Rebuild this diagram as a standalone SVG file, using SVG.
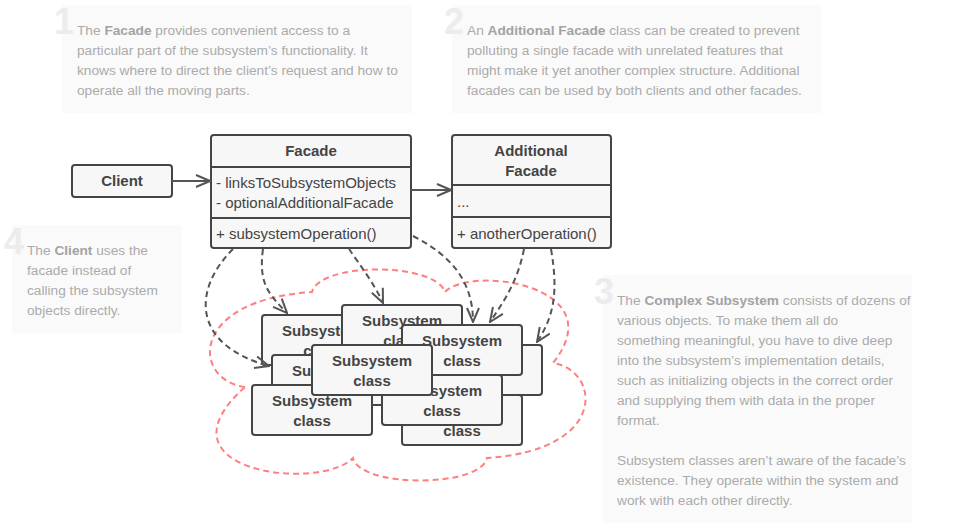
<svg xmlns="http://www.w3.org/2000/svg" width="953" height="525" viewBox="0 0 953 525">
<style>
.note{fill:#fafafa}
.num{font-family:"Liberation Sans",Arial,sans-serif;font-size:36px;font-weight:bold;fill:#ececec;text-anchor:end}
.nt{font-family:"Liberation Sans",Arial,sans-serif;font-size:13.7px;fill:#ababab}
.nt .b{font-weight:bold;fill:#a3a3a3}
.box{fill:#f7f7f7;stroke:#454545;stroke-width:2}
.div{stroke:#454545;stroke-width:2}
.t{font-family:"Liberation Sans",Arial,sans-serif;font-size:15px;fill:#444}
.h{font-family:"Liberation Sans",Arial,sans-serif;font-size:15px;font-weight:bold;fill:#444;text-anchor:middle}
.dash{fill:none;stroke:#555;stroke-width:2;stroke-dasharray:6 4}
.solid{fill:none;stroke:#555;stroke-width:2}
.cloud{fill:none;stroke:#ff7f7f;stroke-width:2;stroke-dasharray:6 4}
</style>
<defs>
<marker id="arr" viewBox="0 0 16 14" refX="15" refY="7" markerWidth="16" markerHeight="14" markerUnits="userSpaceOnUse" orient="auto">
<path d="M1,1 L15,7 L1,13" fill="none" stroke="#555" stroke-width="2"/>
</marker>
</defs>

<g id="note1">
<rect class="note" x="62" y="5" width="350" height="108"/>
<text class="num" x="74" y="34">1</text>
<text class="nt" x="77" y="35">The <tspan class="b">Facade</tspan> provides convenient access to a</text>
<text class="nt" x="77" y="55">particular part of the subsystem’s functionality. It</text>
<text class="nt" x="77" y="75">knows where to direct the client’s request and how to</text>
<text class="nt" x="77" y="95">operate all the moving parts.</text>
</g>
<g id="note2">
<rect class="note" x="452" y="5" width="369" height="108"/>
<text class="num" x="464" y="34">2</text>
<text class="nt" x="467" y="35">An <tspan class="b">Additional Facade</tspan> class can be created to prevent</text>
<text class="nt" x="467" y="55">polluting a single facade with unrelated features that</text>
<text class="nt" x="467" y="75">might make it yet another complex structure. Additional</text>
<text class="nt" x="467" y="95">facades can be used by both clients and other facades.</text>
</g>
<g id="note3">
<rect class="note" x="603" y="275" width="309" height="248"/>
<text class="num" x="614" y="304">3</text>
<text class="nt" x="617" y="305">The <tspan class="b">Complex Subsystem</tspan> consists of dozens of</text>
<text class="nt" x="617" y="325">various objects. To make them all do</text>
<text class="nt" x="617" y="345">something meaningful, you have to dive deep</text>
<text class="nt" x="617" y="365">into the subsystem’s implementation details,</text>
<text class="nt" x="617" y="385">such as initializing objects in the correct order</text>
<text class="nt" x="617" y="405">and supplying them with data in the proper</text>
<text class="nt" x="617" y="425">format.</text>
<text class="nt" x="617" y="465">Subsystem classes aren’t aware of the facade’s</text>
<text class="nt" x="617" y="485">existence. They operate within the system and</text>
<text class="nt" x="617" y="505">work with each other directly.</text>
</g>
<g id="note4">
<rect class="note" x="12" y="225" width="170" height="108"/>
<text class="num" x="24" y="254">4</text>
<text class="nt" x="27" y="255">The <tspan class="b">Client</tspan> uses the</text>
<text class="nt" x="27" y="275">facade instead of</text>
<text class="nt" x="27" y="295">calling the subsystem</text>
<text class="nt" x="27" y="315">objects directly.</text>
</g>

<g id="subsystem-cloud">
<path class="cloud" d="M245,387 C192,380 188,300 312,292 C320,262 435,262 445,292 C470,265 615,285 553,363 C600,370 610,450 487,458 C480,488 360,488 353,458 C320,492 150,472 245,387 Z"/>
</g>

<g id="client">
<rect class="box" x="72" y="165" width="100" height="32" rx="3"/>
<text class="h" x="122" y="186">Client</text>
</g>

<g id="facade">
<rect class="box" x="211" y="135" width="200" height="113" rx="3"/>
<line class="div" x1="211" y1="167" x2="411" y2="167"/>
<line class="div" x1="211" y1="218" x2="411" y2="218"/>
<text class="h" x="311" y="156">Facade</text>
<text class="t" x="216" y="188">- linksToSubsystemObjects</text>
<text class="t" x="216" y="208">- optionalAdditionalFacade</text>
<text class="t" x="216" y="239">+ subsystemOperation()</text>
</g>

<g id="additional-facade">
<rect class="box" x="452" y="135" width="159" height="113" rx="3"/>
<line class="div" x1="452" y1="185" x2="611" y2="185"/>
<line class="div" x1="452" y1="217" x2="611" y2="217"/>
<text class="h" x="531" y="156">Additional</text>
<text class="h" x="531" y="176">Facade</text>
<text class="t" x="457" y="207">...</text>
<text class="t" x="457" y="239">+ anotherOperation()</text>
</g>

<g id="sub-h">
<rect class="box" x="402" y="395" width="120" height="50" rx="3"/>
<text class="h" x="462" y="436">class</text>
</g>
<g id="sub-c">
<rect class="box" x="422" y="345" width="120" height="50" rx="3"/>
</g>
<g id="sub-a">
<rect class="box" x="262" y="315" width="120" height="50" rx="3"/>
<text class="h" x="322" y="336">Subsystem</text>
<text class="h" x="322" y="356">class</text>
</g>
<g id="sub-b">
<rect class="box" x="342" y="305" width="120" height="50" rx="3"/>
<text class="h" x="402" y="326">Subsystem</text>
<text class="h" x="402" y="346">class</text>
</g>
<g id="sub-e">
<rect class="box" x="272" y="355" width="120" height="50" rx="3"/>
<text class="h" x="332" y="376">Subsystem</text>
</g>
<g id="sub-f">
<rect class="box" x="252" y="385" width="120" height="50" rx="3"/>
<text class="h" x="312" y="406">Subsystem</text>
<text class="h" x="312" y="426">class</text>
</g>
<g id="sub-g">
<rect class="box" x="382" y="375" width="120" height="50" rx="3"/>
<text class="h" x="442" y="396">Subsystem</text>
<text class="h" x="442" y="416">class</text>
</g>
<g id="sub-d">
<rect class="box" x="402" y="325" width="120" height="50" rx="3"/>
<text class="h" x="462" y="346">Subsystem</text>
<text class="h" x="462" y="366">class</text>
</g>
<g id="sub-i">
<rect class="box" x="312" y="345" width="120" height="50" rx="3"/>
<text class="h" x="372" y="366">Subsystem</text>
<text class="h" x="372" y="386">class</text>
</g>

<g id="connectors">
<path class="solid" d="M172,181 L210,181" marker-end="url(#arr)"/>
<path class="solid" d="M411,190 L451,190" marker-end="url(#arr)"/>
<path class="dash" d="M233,249 C192,290 192,345 269,366" marker-end="url(#arr)"/>
<path class="dash" d="M263,249 C258,285 270,295 287,313" marker-end="url(#arr)"/>
<path class="dash" d="M349,249 C360,265 375,285 383,303" marker-end="url(#arr)"/>
<path class="dash" d="M413,236 C450,255 473,280 473,322" marker-end="url(#arr)"/>
<path class="dash" d="M524,249 C518,280 505,300 490,322" marker-end="url(#arr)"/>
<path class="dash" d="M551,249 C558,290 555,315 537,342" marker-end="url(#arr)"/>
</g>
</svg>
